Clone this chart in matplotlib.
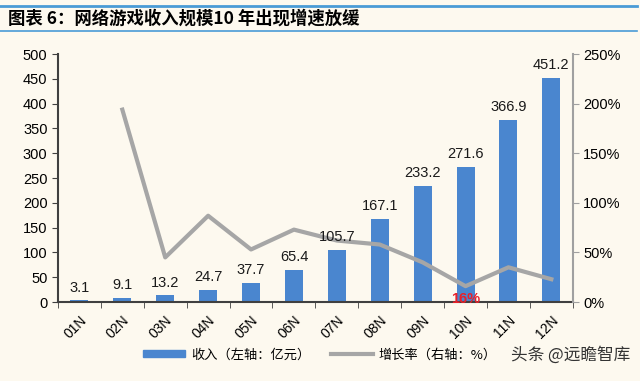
import matplotlib.pyplot as plt
from matplotlib.lines import Line2D
from matplotlib.patches import Patch
import matplotlib.ticker as mtick

plt.rcParams['font.family'] = ['Liberation Sans', 'Noto Sans CJK SC', 'DejaVu Sans']

years = ['01N', '02N', '03N', '04N', '05N', '06N', '07N', '08N', '09N', '10N', '11N', '12N']
revenue = [3.1, 9.1, 13.2, 24.7, 37.7, 65.4, 105.7, 167.1, 233.2, 271.6, 366.9, 451.2]
growth = [None, 194, 45, 87, 53, 73, 62, 58, 40, 16, 35, 23]

bg = '#FDF9EF'
bar_color = '#4A86CF'
line_color = '#A6A6A6'

fig = plt.figure(figsize=(6.4, 3.81), dpi=100, facecolor=bg)
ax = fig.add_axes([0.0906, 0.2073, 0.8044, 0.6507])
ax.set_facecolor(bg)

x = list(range(len(years)))
ax.bar(x, revenue, width=0.42, color=bar_color, zorder=2)

ax.set_xlim(-0.5, len(years) - 0.5)
ax.set_ylim(0, 500)
ax.set_yticks(range(0, 501, 50))
ax.set_xticks(x)
ax.set_xticklabels(years, rotation=45, fontsize=10, ha='right', rotation_mode='anchor')
ax.set_xticks([i + 0.5 for i in range(-1, len(years))], minor=True)
ax.tick_params(axis='x', which='major', length=0, pad=8)
ax.tick_params(axis='x', which='minor', length=4, direction='out', color='#404040')
ax.tick_params(axis='y', labelsize=10.5, length=4, color='#404040', direction='out')
for s in ['top', 'right']:
    ax.spines[s].set_visible(False)
ax.spines['left'].set_color('#404040')
ax.spines['left'].set_linewidth(1.5)
ax.spines['bottom'].set_color('#404040')
ax.spines['bottom'].set_linewidth(1.5)

ax2 = ax.twinx()
gx = [xi for xi, g in zip(x, growth) if g is not None]
gy = [g / 100 for g in growth if g is not None]
ax2.plot(gx, gy, color=line_color, lw=3, zorder=3)
ax2.set_ylim(0, 2.5)
ax2.set_yticks([0, 0.5, 1.0, 1.5, 2.0, 2.5])
ax2.yaxis.set_major_formatter(mtick.PercentFormatter(1.0, decimals=0))
ax2.tick_params(axis='y', labelsize=10.5, length=4, color='#A0A0A0', direction='out')
for s in ['top', 'left', 'bottom']:
    ax2.spines[s].set_visible(False)
ax2.spines['right'].set_color('#A0A0A0')
ax2.spines['right'].set_linewidth(1.5)

# value labels drawn on top of the growth line
for xi, v in zip(x, revenue):
    ax2.text(xi, v + 12, f'{v}', ha='center', va='bottom', fontsize=10.5,
             color='#1a1a1a', transform=ax.transData, zorder=5)

ax2.text(9, 0.03, '16%', ha='center', va='center', color='#E8202A',
         fontsize=10.5, fontweight='bold', zorder=5)

# title bar
fig.add_artist(Line2D([0.0, 0.995], [0.985, 0.985], color='#4A9BD6', lw=2))
fig.add_artist(Line2D([0.0, 0.995], [0.918, 0.918], color='#4A9BD6', lw=1.2))
fig.text(0.012, 0.951, '图表 6：网络游戏收入规模10 年出现增速放缓', fontsize=12.5,
         fontweight='bold', va='center', ha='left',
         family=['Noto Sans CJK SC', 'DejaVu Sans'])

handles = [Patch(color=bar_color), Line2D([], [], color=line_color, lw=3)]
fig.legend(handles, ['收入（左轴：亿元）', '增长率（右轴：%）'], loc='center',
           bbox_to_anchor=(0.5, 0.068), ncol=2, frameon=False,
           handlelength=3.2, handleheight=0.45, handletextpad=0.4, columnspacing=1.6,
           prop={'family': ['Noto Sans CJK SC', 'DejaVu Sans'], 'size': 9.5})

fig.text(0.985, 0.068, '头条 @远瞻智库', fontsize=12, ha='right', va='center',
         color='#333333', family=['Noto Sans CJK SC', 'DejaVu Sans'])

fig.savefig('out.png', dpi=100, facecolor=bg)
